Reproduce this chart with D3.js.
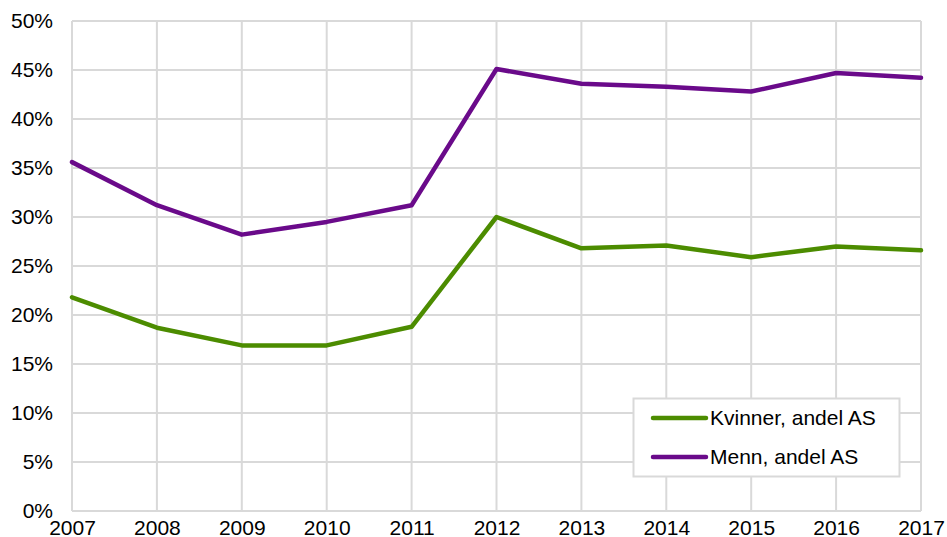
<!DOCTYPE html>
<html><head><meta charset="utf-8">
<script src="https://cdn.jsdelivr.net/npm/d3@7"></script>
<style>body{margin:0;background:#fff}svg{display:block}text{font-family:"Liberation Sans",Arial,sans-serif}</style>
</head><body><svg id="c" width="947" height="537"></svg>
<script>
const years = [2007,2008,2009,2010,2011,2012,2013,2014,2015,2016,2017];
const kvinner = [21.8,18.7,16.9,16.9,18.8,30.0,26.8,27.1,25.9,27.0,26.6];
const menn = [35.6,31.2,28.2,29.5,31.2,45.1,43.6,43.3,42.8,44.7,44.2];
const yTicks = [0,5,10,15,20,25,30,35,40,45,50];
const seriesNames = ["Kvinner, andel AS","Menn, andel AS"];
const colors = ["#4c8c00","#6a0a8a"];

const svg = d3.select("#c");
const x = d3.scaleLinear().domain([2007,2017]).range([72,921]);
const y = d3.scaleLinear().domain([0,50]).range([511,21]);
const grid = "#d9d9d9";
const fs = 21;

const g = svg.append("g");
g.selectAll(".hg").data(yTicks).join("line")
  .attr("x1",x(2007)).attr("x2",x(2017)).attr("y1",d=>y(d)).attr("y2",d=>y(d))
  .attr("stroke",grid).attr("stroke-width",2);
g.selectAll(".vg").data(years).join("line")
  .attr("y1",y(0)).attr("y2",y(50)).attr("x1",d=>x(d)).attr("x2",d=>x(d))
  .attr("stroke",grid).attr("stroke-width",2);

const yAxis = d3.axisLeft(y).tickValues(yTicks).tickFormat(d=>d+"%").tickSize(0).tickPadding(19);
const ya = svg.append("g").attr("transform",`translate(${x(2007)},0)`).call(yAxis);
ya.select(".domain").remove();
ya.selectAll("text").attr("font-size",fs).attr("fill","#000").attr("font-family","Liberation Sans, Arial, sans-serif");

const xAxis = d3.axisBottom(x).tickValues(years).tickFormat(d3.format("d")).tickSize(0).tickPadding(9);
const xa = svg.append("g").attr("transform",`translate(0,${y(0)})`).call(xAxis);
xa.select(".domain").remove();
xa.selectAll("text").attr("font-size",fs).attr("fill","#000").attr("font-family","Liberation Sans, Arial, sans-serif");

const line = d3.line().x((d,i)=>x(years[i])).y(d=>y(d));
[kvinner,menn].forEach((s,i)=>{
  svg.append("path").attr("d",line(s)).attr("fill","none")
    .attr("stroke",colors[i]).attr("stroke-width",4.5).attr("stroke-linejoin","round").attr("stroke-linecap","round");
});

const lg = svg.append("g");
lg.append("rect").attr("x",633.5).attr("y",398.5).attr("width",266).attr("height",78)
  .attr("fill","#fff").attr("stroke",grid).attr("stroke-width",2);
seriesNames.forEach((n,i)=>{
  const yy = 418 + i*39;
  lg.append("line").attr("x1",653).attr("x2",706).attr("y1",yy).attr("y2",yy)
    .attr("stroke",colors[i]).attr("stroke-width",4.5).attr("stroke-linecap","round");
  lg.append("text").attr("x",710).attr("y",yy+7).attr("font-size",fs).attr("fill","#000").text(n);
});
</script></body></html>
